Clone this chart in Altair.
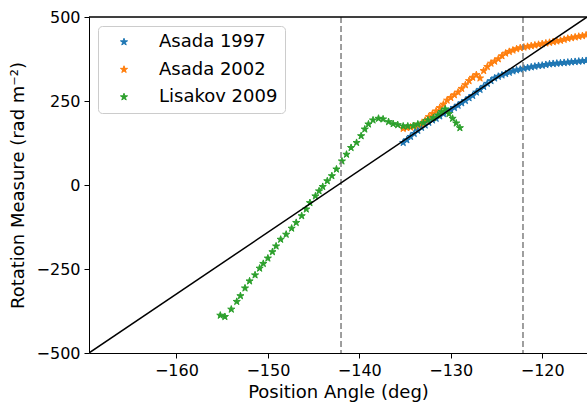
import altair as alt
import pandas as pd

# ---- data ----
a97_x = [-135.2, -134.8, -134.4, -134.0, -133.6, -133.2, -132.8, -132.4, -132.0, -131.6,
         -131.2, -130.8, -130.4, -130.0, -129.6, -129.2, -128.8, -128.4, -128.0, -127.6,
         -127.2, -126.8, -126.4, -126.0, -125.6, -125.2, -124.8, -124.4, -124.0, -123.6,
         -123.2, -122.8, -122.4, -122.0, -121.6, -121.2, -120.8, -120.4, -120.0, -119.6,
         -119.2, -118.8, -118.4, -118.0, -117.6, -117.2, -116.8, -116.4, -116.0, -115.6, -115.2]
a97_y = [126, 134, 144, 153, 162, 171, 178, 186, 193, 198,
         205, 212, 218, 224, 230, 237, 244, 251, 259, 266,
         276, 284, 293, 302, 310, 318, 323, 327, 331, 335,
         339, 342, 344, 347, 349, 351, 353, 355, 356, 358,
         360, 361, 362, 363, 364, 365, 366, 367, 368, 369, 370]

a02_x = list(a97_x)
a02_y = [168, 170, 172, 175, 178, 182, 192, 203, 212, 220,
         230, 240, 252, 260, 268, 276, 287, 298, 310, 320,
         328, 318, 340, 352, 362, 368, 375, 384, 392, 397,
         401, 405, 408, 410, 412, 414, 416, 418, 420, 422,
         424, 426, 428, 430, 433, 436, 438, 440, 442, 444, 446]

lis_x = [-155.2, -154.7, -154.0, -153.4, -153.0, -152.5, -152.0, -151.4, -150.9, -150.5,
         -150.0, -149.5, -149.1, -148.6, -148.0, -147.4, -146.9, -146.3, -145.8, -145.4,
         -144.8, -144.4, -144.0, -143.5, -143.0, -142.5, -141.9, -141.4, -140.9, -140.3,
         -139.8, -139.4, -139.0, -138.5, -137.9, -137.4, -136.8, -136.3, -135.8, -135.2,
         -134.7, -134.1, -133.6, -133.0, -132.5, -131.9, -131.4, -131.0, -130.6, -130.2,
         -129.8, -129.4, -129.0]
lis_y = [-388, -392, -370, -347, -330, -307, -286, -268, -248, -234,
         -218, -199, -182, -162, -147, -129, -112, -92, -72, -53,
         -33, -18, -5, 12, 27, 47, 71, 91, 111, 126,
         146, 166, 181, 193, 198, 196, 188, 182, 179, 175,
         175, 176, 181, 185, 193, 200, 208, 218, 226, 212,
         198, 184, 170]

series_names = ["Asada 1997", "Asada 2002", "Lisakov 2009"]
series_colors = ["#1f77b4", "#ff7f0e", "#2ca02c"]

model_x = [-169.56, -115.1]
model_y = [-500, 500]

vline_x = [-142.0, -122.1]

x_ticks = [-160, -150, -140, -130, -120]
y_ticks = [-500, -250, 0, 250, 500]
x_domain = [-169.56, -115.1]
y_domain = [-500, 500]

# five-pointed star marker (unit box -1..1)
STAR = ("M0,-1 L0.225,-0.309 L0.951,-0.309 L0.363,0.118 L0.588,0.809 L0,0.382 "
        "L-0.588,0.809 L-0.363,0.118 L-0.951,-0.309 L-0.225,-0.309 Z")

# ---- tables ----
pts = pd.concat([
    pd.DataFrame({"series": series_names[0], "pa": a97_x, "rm": a97_y}),
    pd.DataFrame({"series": series_names[1], "pa": a02_x, "rm": a02_y}),
    pd.DataFrame({"series": series_names[2], "pa": lis_x, "rm": lis_y}),
], ignore_index=True)

model = pd.DataFrame({"pa": model_x, "rm": model_y})
vlines = pd.DataFrame({"pa": vline_x})

xscale = alt.Scale(domain=x_domain, nice=False, zero=False)
yscale = alt.Scale(domain=y_domain, nice=False, zero=False)
cscale = alt.Scale(domain=series_names, range=series_colors)

xaxis = alt.Axis(title="Position Angle (deg)", values=x_ticks, grid=False, orient="bottom",
                 labelPadding=4, titlePadding=5)
yaxis = alt.Axis(title="Rotation Measure (rad m⁻²)", values=y_ticks, grid=False, orient="left",
                 labelPadding=4, titlePadding=9)


def make_legend():
    return alt.Legend(title=None, orient="none", legendX=9, legendY=9,
                      symbolType=STAR, symbolSize=56, symbolStrokeWidth=1,
                      labelFontSize=18, labelFont="DejaVu Sans", labelColor="black",
                      padding=7, rowPadding=9.5, symbolOffset=10,
                      labelOffset=26, strokeColor="#cccccc",
                      fillColor="white", cornerRadius=4)


points = alt.Chart(pts).mark_point(shape=STAR, filled=True, opacity=1, size=56,
                                   strokeWidth=1).encode(
    x=alt.X("pa:Q", scale=xscale, axis=xaxis),
    y=alt.Y("rm:Q", scale=yscale, axis=yaxis),
    fill=alt.Fill("series:N", scale=cscale, legend=make_legend()),
    stroke=alt.Stroke("series:N", scale=cscale, legend=make_legend()),
)

vl = alt.Chart(vlines).mark_rule(color="#7f7f7f", strokeWidth=1.5,
                                 strokeDash=[6, 3]).encode(x=alt.X("pa:Q", scale=xscale))

line = alt.Chart(model).mark_line(color="black", strokeWidth=1.5, clip=True).encode(
    x=alt.X("pa:Q", scale=xscale), y=alt.Y("rm:Q", scale=yscale))

top_spine = alt.Chart(model).mark_rule(color="black", strokeWidth=1).encode(
    x=alt.value(0), x2=alt.value(498), y=alt.value(0))

chart = alt.layer(points, vl, line, top_spine).properties(
    width=498, height=336,
    padding={"left": 89, "top": 17, "right": 0, "bottom": 49},
    autosize=alt.AutoSizeParams(type="none"),
).configure_view(strokeWidth=0).configure_axis(
    domainColor="black", tickColor="black", labelColor="black", titleColor="black",
    labelFont="DejaVu Sans", titleFont="DejaVu Sans",
    labelFontSize=16, titleFontSize=18, titleFontWeight="normal",
    tickSize=5, domainWidth=1, tickWidth=1,
)

chart.save("out.html", embed_options={"renderer": "svg", "actions": False})
